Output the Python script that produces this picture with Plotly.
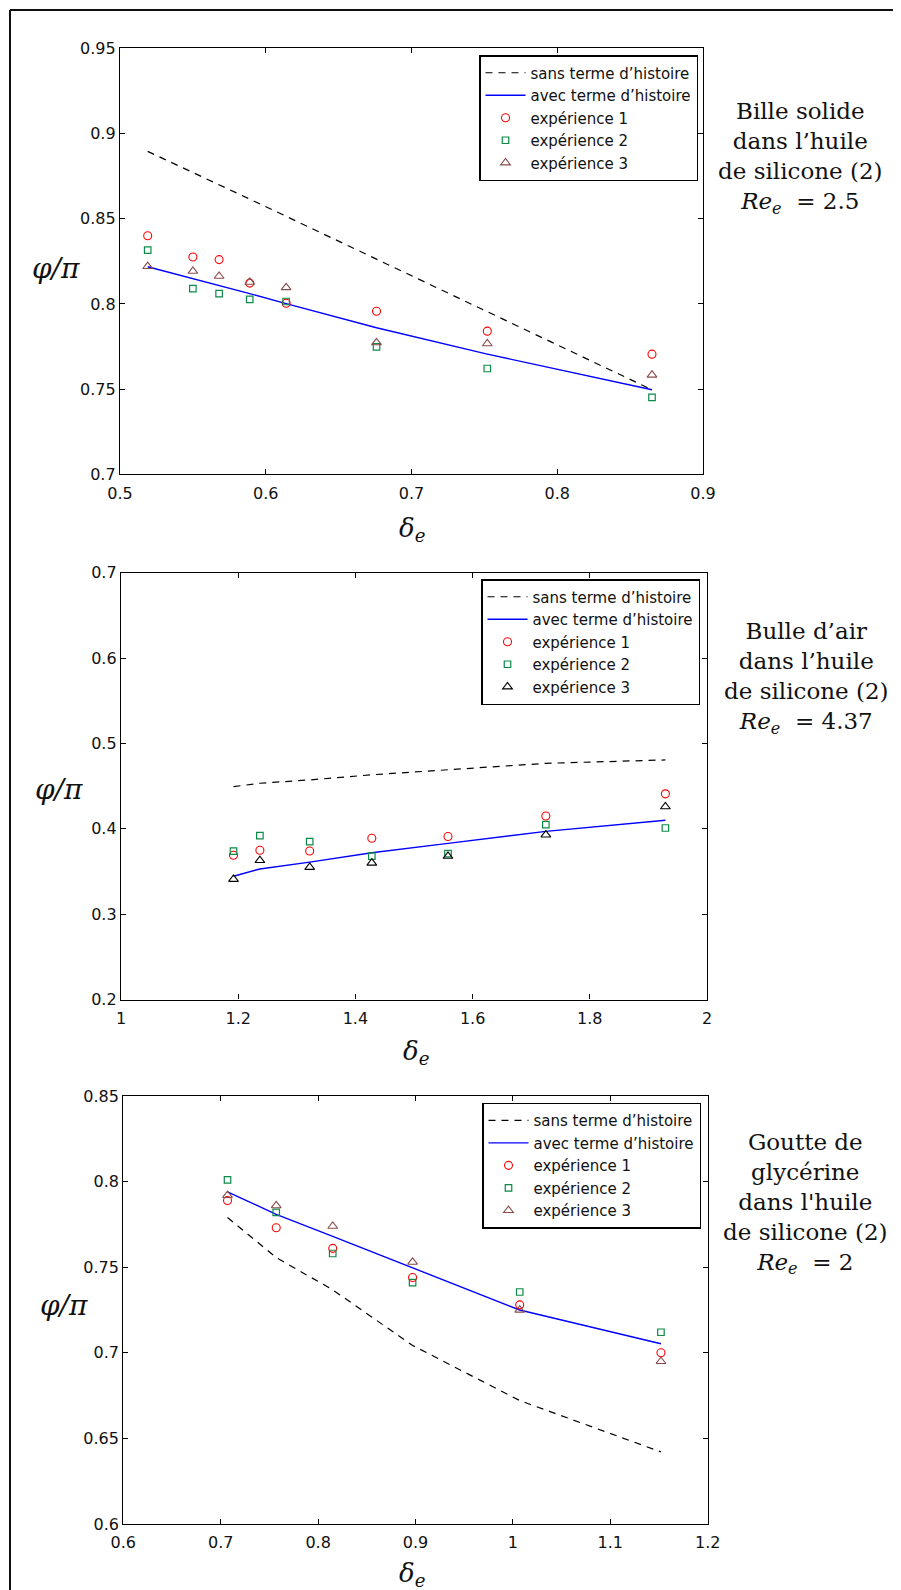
import plotly.graph_objects as go

# ---------------- data ----------------
# Panel 1 : Bille solide
x1 = [0.519, 0.550, 0.568, 0.589, 0.614, 0.676, 0.752, 0.865]
sans1 = [0.8895, 0.8773, 0.8700, 0.8615, 0.8514, 0.8262, 0.7954, 0.7496]
avec1 = [0.8218, 0.8150, 0.8108, 0.8060, 0.8002, 0.7860, 0.7705, 0.7496]
exp1_1 = [0.8400, 0.8275, 0.8260, 0.8122, 0.8004, 0.7957, 0.7840, 0.7705]
exp2_1 = [0.8316, 0.8090, 0.8060, 0.8026, 0.8014, 0.7748, 0.7621, 0.7452]
exp3_1 = [0.8220, 0.8192, 0.8163, 0.8128, 0.8096, 0.7773, 0.7767, 0.7583]

# Panel 2 : Bulle d'air
x2 = [1.192, 1.237, 1.322, 1.428, 1.558, 1.725, 1.929]
sans2 = [0.4494, 0.4534, 0.4573, 0.4633, 0.4692, 0.4767, 0.4807]
avec2 = [0.3445, 0.3530, 0.3610, 0.3720, 0.3830, 0.3970, 0.4100]
exp1_2 = [0.369, 0.375, 0.374, 0.389, 0.391, 0.415, 0.441]
exp2_2 = [0.374, 0.392, 0.385, 0.368, 0.371, 0.405, 0.401]
exp3_2 = [0.341, 0.363, 0.355, 0.360, 0.368, 0.393, 0.426]

# Panel 3 : Goutte de glycérine
x3 = [0.707, 0.757, 0.815, 0.897, 1.007, 1.152]
sans3 = [0.7790, 0.7556, 0.7368, 0.7043, 0.6721, 0.6421]
avec3 = [0.7940, 0.7809, 0.7680, 0.7495, 0.7250, 0.7053]
exp1_3 = [0.789, 0.773, 0.761, 0.744, 0.728, 0.700]
exp2_3 = [0.801, 0.782, 0.758, 0.741, 0.7355, 0.712]
exp3_3 = [0.792, 0.786, 0.774, 0.753, 0.725, 0.695]

# ticks
xt1 = [0.5, 0.6, 0.7, 0.8, 0.9]
xt1_txt = ["0.5", "0.6", "0.7", "0.8", "0.9"]
yt1 = [0.7, 0.75, 0.8, 0.85, 0.9, 0.95]
yt1_txt = ["0.7", "0.75", "0.8", "0.85", "0.9", "0.95"]
xt2 = [1.0, 1.2, 1.4, 1.6, 1.8, 2.0]
xt2_txt = ["1", "1.2", "1.4", "1.6", "1.8", "2"]
yt2 = [0.2, 0.3, 0.4, 0.5, 0.6, 0.7]
yt2_txt = ["0.2", "0.3", "0.4", "0.5", "0.6", "0.7"]
xt3 = [0.6, 0.7, 0.8, 0.9, 1.0, 1.1, 1.2]
xt3_txt = ["0.6", "0.7", "0.8", "0.9", "1", "1.1", "1.2"]
yt3 = [0.6, 0.65, 0.7, 0.75, 0.8, 0.85]
yt3_txt = ["0.6", "0.65", "0.7", "0.75", "0.8", "0.85"]

names = ["sans terme d’histoire", "avec terme d’histoire",
         "expérience 1", "expérience 2", "expérience 3"]

captions = [
    "Bille solide<br>dans l’huile<br>de silicone (2)<br><i>Re</i><sub><i>e</i></sub>  = 2.5",
    "Bulle d’air<br>dans l’huile<br>de silicone (2)<br><i>Re</i><sub><i>e</i></sub>  = 4.37",
    "Goutte de<br>glycérine<br>dans l'huile<br>de silicone (2)<br><i>Re</i><sub><i>e</i></sub>  = 2",
]

# ---------------- layout geometry (page pixels) ----------------
PW, PH = 901, 1590          # browser page
OFF = 8                     # default body margin of the html page
W, H = PW - OFF, PH - OFF   # figure size so that it ends at the page edge


def px(x):
    return (x - OFF) / W


def py(y):
    return 1 - (y - OFF) / H


# (left, right, top, bottom)
boxes = [(120, 703, 48.3, 474.3), (121, 707, 572.7, 999.6), (123.3, 707.7, 1096, 1524)]
ranges = [((0.5, 0.9), (0.7, 0.95)), ((1.0, 2.0), (0.2, 0.7)), ((0.6, 1.2), (0.6, 0.85))]
legpos = [(698, 55), (700, 579), (701, 1102.6)]
cappos = [(800, 158), (806, 678), (805, 1203)]
ylabpos = [(56, 268), (59, 790), (64, 1305)]
xlabpos = [(412, 530), (416, 1052), (412, 1574)]

RED = "#ff0000"
GREEN = "#0a8a45"
BROWN = "#8a4b4b"

panels = [
    (x1, sans1, avec1, exp1_1, exp2_1, exp3_1, BROWN),
    (x2, sans2, avec2, exp1_2, exp2_2, exp3_2, "#000000"),
    (x3, sans3, avec3, exp1_3, exp2_3, exp3_3, BROWN),
]
ticks = [(xt1, xt1_txt, yt1, yt1_txt), (xt2, xt2_txt, yt2, yt2_txt), (xt3, xt3_txt, yt3, yt3_txt)]

fig = go.Figure()
TICKFONT = dict(family="DejaVu Sans", size=16, color="#111111")

for i, (xs, sans, avec, e1, e2, e3, c3) in enumerate(panels):
    k = "" if i == 0 else str(i + 1)
    xa, ya, lg = "x" + k, "y" + k, "legend" + k
    fig.add_trace(go.Scatter(x=xs, y=sans, mode="lines", name=names[0],
                             line=dict(color="black", width=1.2, dash="7px,6px"),
                             xaxis=xa, yaxis=ya, legend=lg))
    fig.add_trace(go.Scatter(x=xs, y=avec, mode="lines", name=names[1],
                             line=dict(color="#0000ff", width=1.4),
                             xaxis=xa, yaxis=ya, legend=lg))
    fig.add_trace(go.Scatter(x=xs, y=e1, mode="markers", name=names[2],
                             marker=dict(symbol="circle-open", size=8, color=RED, line=dict(width=1.1, color=RED)),
                             xaxis=xa, yaxis=ya, legend=lg))
    fig.add_trace(go.Scatter(x=xs, y=e2, mode="markers", name=names[3],
                             marker=dict(symbol="square-open", size=6.5, color=GREEN, line=dict(width=1.2, color=GREEN)),
                             xaxis=xa, yaxis=ya, legend=lg))
    fig.add_trace(go.Scatter(x=xs, y=e3, mode="markers", name=names[4],
                             marker=dict(symbol="triangle-up-open", size=8.5, color=c3, line=dict(width=1.1, color=c3)),
                             xaxis=xa, yaxis=ya, legend=lg))

    l, r, t, b = boxes[i]
    (xr, yr) = ranges[i]
    xtv, xtt, ytv, ytt = ticks[i]
    axcommon = dict(showline=True, linecolor="black", linewidth=1.3, mirror="ticks",
                    ticks="inside", ticklen=5, tickwidth=1, tickcolor="black",
                    showgrid=False, zeroline=False, tickfont=TICKFONT, fixedrange=True,
                    automargin=False)
    fig.update_layout(**{
        "xaxis" + k: dict(domain=[px(l), px(r)], range=list(xr), anchor=ya,
                          tickvals=xtv, ticktext=xtt, ticklabelstandoff=4, **axcommon),
        "yaxis" + k: dict(domain=[py(b), py(t)], range=list(yr), anchor=xa,
                          tickvals=ytv, ticktext=ytt, **axcommon),
        lg: dict(x=px(legpos[i][0]), y=py(legpos[i][1]), xanchor="right", yanchor="top",
                 bgcolor="white", bordercolor="black", borderwidth=1.5, itemwidth=40,
                 font=dict(family="DejaVu Sans", size=15, color="#111111"),
                 itemclick=False, itemdoubleclick=False),
    })

    fig.add_annotation(x=px(cappos[i][0]), y=py(cappos[i][1]), xref="paper", yref="paper",
                       text=captions[i], showarrow=False, align="center",
                       xanchor="center", yanchor="middle",
                       font=dict(family="DejaVu Serif", size=23, color="#111111"))
    fig.add_annotation(x=px(ylabpos[i][0]), y=py(ylabpos[i][1]), xref="paper", yref="paper",
                       text="<i>φ/π</i>", showarrow=False, xanchor="center", yanchor="middle",
                       font=dict(family="DejaVu Serif", size=28, color="#111111"))
    fig.add_annotation(x=px(xlabpos[i][0]), y=py(xlabpos[i][1]), xref="paper", yref="paper",
                       text="<i>δ</i><sub><i>e</i></sub>", showarrow=False, xanchor="center", yanchor="middle",
                       font=dict(family="DejaVu Serif", size=26, color="#111111"))

# outer frame (top and left edges)
fig.add_shape(type="line", xref="paper", yref="paper", x0=px(10), y0=py(10), x1=1.02, y1=py(10),
              line=dict(color="#111111", width=2))
fig.add_shape(type="line", xref="paper", yref="paper", x0=px(10), y0=py(10), x1=px(10), y1=-0.02,
              line=dict(color="#111111", width=2))

fig.update_layout(width=W, height=H, margin=dict(l=0, r=0, t=0, b=0, pad=0, autoexpand=False),
                  paper_bgcolor="white", plot_bgcolor="white", showlegend=True)

fig.write_html("out.html")
